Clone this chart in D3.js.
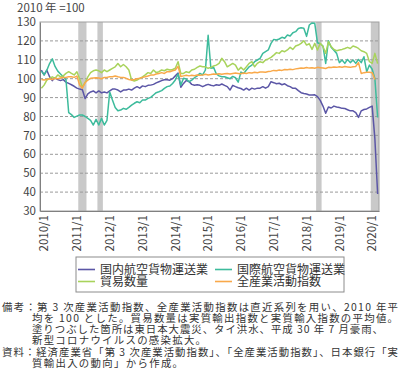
<!DOCTYPE html>
<html>
<head>
<meta charset="utf-8">
<script src="https://cdn.jsdelivr.net/npm/d3@7"></script>
<style>
body { margin: 0; background: #fff; }
text { font-family: "Noto Sans CJK JP", "Noto Sans", sans-serif; }
</style>
</head>
<body>
<div id="chart"></div>
<script>
// categories and labels
var years = [2010, 2011, 2012, 2013, 2014, 2015, 2016, 2017, 2018, 2019, 2020];
var tickLabels = ["2010/1", "2011/1", "2012/1", "2013/1", "2014/1", "2015/1",
                  "2016/1", "2017/1", "2018/1", "2019/1", "2020/1"];
var yTicks = [30, 40, 50, 60, 70, 80, 90, 100, 110, 120, 130];
var seriesNames = ["国内航空貨物運送業", "国際航空貨物運送業", "貿易数量", "全産業活動指数"];
var colors = ["#5b56a6", "#3dbb9c", "#a8d35b", "#f9a94a"];

// shaded periods (earthquake, Thai flood, 2018 heavy rain, covid)
var shadeStart = ["2011/3", "2011/10", "2018/6", "2020/2"];
var shadeEnd   = ["2011/5", "2011/11", "2018/7", "2020/4"];

// monthly values 2010/1 - 2020/4, one row per year
var domestic = [
  104.5, 102, 104.5, 101, 99, 100.5, 99.5, 99, 99.5, 98.2, 97.5, 96.8,
  96, 95, 94.5, 94.2, 89.5, 92, 93, 93.5, 92.5, 93.5, 92.5, 93,
  92.5, 93.5, 94.5, 94.5, 94, 93, 94, 94, 94.5, 94, 95, 95.8,
  95, 96.2, 95.8, 96.5, 96.6, 97, 97.8, 98.4, 99, 99.4, 99.5, 99.2,
  100, 101.5, 103, 95.5, 97.5, 99, 98.5, 97, 96.5, 96.8, 96.5, 95.8,
  96.5, 97, 96.5, 96.2, 96.8, 96.5, 97.2, 96.5, 95.8, 94, 96.5, 95.8,
  95.2, 94.8, 94, 95, 94, 95, 94.5, 95, 95, 95.8, 95, 95.8,
  98.4, 97.9, 97.3, 97.6, 96.8, 97.3, 96.3, 95.8, 94.9, 94.9, 93.7, 92.6,
  92.2, 91.9, 91.4, 91.4, 91.5, 90.5, 88.5, 85.5, 81.7, 85, 84.5, 85.5,
  85, 84.8, 84.3, 84.2, 83.6, 83, 83, 82, 79.5, 83, 83.7, 84,
  84.8, 85.5, 68, 39
];
var international = [
  104, 102, 104.5, 108, 110.5, 106.5, 104, 102.5, 101, 99.5, 82, 81,
  79.5, 80.2, 80.8, 80.8, 80, 79, 78, 75.5, 78.5, 75.5, 79, 75.5,
  78, 93, 88.7, 84.8, 83, 83.4, 84.3, 83.8, 84.8, 86, 87, 87.8,
  87.3, 88.7, 88.7, 89.6, 90.1, 91.4, 92.6, 93.1, 93.7, 94.9, 95.8, 96.1,
  97.5, 99.3, 102.5, 96.6, 100.2, 99.8, 98.4, 99.2, 100.5, 101.5, 102.8, 102,
  104.6, 123, 105.5, 106, 102.5, 101.5, 101, 101, 100.5, 100, 101.2, 100.5,
  98.2, 103.5, 102.8, 104.6, 106.3, 107.2, 109, 109.9, 110.8, 113.4, 114.3, 115.2,
  118.7, 120.8, 120.5, 121, 121.9, 121.4, 123.1, 122.6, 124.3, 124.9, 126.6, 127,
  126.7, 122.4, 128.4, 129.5, 129.3, 119, 118.5, 117.3, 108.1, 120.1, 116.6, 115,
  113.4, 108.5, 109.9, 108.1, 110.2, 108.5, 109.9, 108.1, 110.2, 108.5, 111.6, 103.7,
  107.2, 105, 100, 79.5
];
var tradeVolume = [
  94.9, 96.6, 99.3, 100.2, 101, 100.2, 102, 101, 101.5, 102.8, 103.7, 102.8,
  102, 103.7, 100, 95.5, 98, 101, 103.2, 104.2, 104.6, 104.2, 103.2, 104.6,
  103.7, 104.6, 105.5, 106.3, 108, 106.3, 107.5, 106.3, 104.6, 99.3, 98.8, 99.3,
  100.2, 101, 102, 103.2, 102.8, 104.6, 103.2, 103.7, 104.6, 104.2, 105, 104.6,
  104.9, 105.5, 109, 102.8, 102.8, 103.7, 103.2, 104.6, 105, 106, 106.7, 106.3,
  106.3, 105.5, 106, 106.7, 107.2, 108.1, 110.8, 109, 106.3, 107.2, 108.1, 107.2,
  104.5, 106, 104.6, 106.3, 108.1, 109, 106.3, 108.1, 109, 108.5, 109.9, 110.5,
  111.3, 112.5, 113.8, 113.4, 114.8, 114.3, 115.2, 116.6, 115.5, 117.3, 117.8, 118.7,
  120.1, 117.8, 118.5, 115.5, 118.7, 115.2, 118.7, 117, 113.4, 119.6, 117, 115.5,
  114.8, 115.2, 115.5, 116, 116.6, 116, 117.3, 116.8, 116, 114.8, 114.3, 113.4,
  109, 108.1, 113.4, 108
];
var allIndustry = [
  99.6, 99.3, 99.6, 100, 99.6, 100.2, 100, 100.4, 100.7, 100.7, 101, 101,
  100.7, 101.4, 96.7, 95, 97.9, 99.3, 100.2, 100.4, 100.5, 100.4, 100, 100.7,
  100.7, 101, 101, 101.4, 101, 100.7, 100.7, 100.2, 99.6, 99.3, 99.6, 100,
  100.2, 100.7, 101, 101.4, 101.9, 101.9, 102.5, 102.8, 103.2, 102.8, 103.7, 103.7,
  104.2, 104.6, 106.5, 101.2, 101.5, 101.8, 101.5, 101.8, 101.6, 102, 101.8, 102,
  102.3, 102, 102.2, 102.5, 102.3, 102.6, 102.4, 102.6, 102.8, 102.5, 102.8, 103,
  102.8, 102.6, 103, 102.8, 103.2, 103, 103.4, 103.2, 103.5, 103.6, 103.4, 103.8,
  104, 104.4, 104.2, 104.6, 104.4, 104.9, 104.7, 105, 104.8, 105.2, 105.4, 105.6,
  105.5, 105.9, 105.6, 105.8, 105.5, 106, 105.8, 105.6, 105.4, 106, 105.9, 106.2,
  106, 106.3, 106.1, 106.4, 106.2, 106, 106.3, 106.5, 108.5, 102.8, 103.2, 103.4,
  103.4, 103.2, 99.6, null
];

var months = [];
years.forEach(function (yr) {
  for (var m = 1; m <= 12; m++) months.push(yr + "/" + m);
});
months = months.slice(0, domestic.length);

var series = [domestic, international, tradeVolume, allIndustry];

var W = 400, H = 390;
var margin = {top: 22, right: 21, bottom: 179, left: 40},
    width = W - margin.left - margin.right,
    height = H - margin.top - margin.bottom;

var svg = d3.select("#chart")
  .append("svg")
    .attr("width", W)
    .attr("height", H);

var g = svg.append("g")
    .attr("transform", "translate(" + margin.left + "," + margin.top + ")");

var x = d3.scaleBand()
  .domain(months)
  .range([0, width])
  .padding(0);

var y = d3.scaleLinear()
  .domain([30, 130])
  .range([height, 0]);

var bw = x.bandwidth();

// shaded periods
g.selectAll(".shade")
  .data(shadeStart)
  .enter()
  .append("rect")
    .attr("x", function (d) { return x(d); })
    .attr("y", 0)
    .attr("width", function (d, i) { return x(shadeEnd[i]) + bw - x(d); })
    .attr("height", height)
    .attr("fill", "#c9c9c9");

// dashed grid
g.selectAll(".grid")
  .data(yTicks.filter(function (d) { return d > 30 && d < 130; }))
  .enter()
  .append("line")
    .attr("x1", 0)
    .attr("x2", width)
    .attr("y1", function (d) { return y(d); })
    .attr("y2", function (d) { return y(d); })
    .attr("stroke", "#9a9a9a")
    .attr("stroke-width", 1)
    .attr("stroke-dasharray", "3,2");

// frame
g.append("rect")
  .attr("x", 0)
  .attr("y", 0)
  .attr("width", width)
  .attr("height", height)
  .attr("fill", "none")
  .attr("stroke", "#a0a0a0")
  .attr("stroke-width", 1);

// y axis
var yAxis = g.append("g")
  .call(d3.axisLeft(y).tickValues(yTicks).tickSize(0).tickPadding(4));
yAxis.select(".domain").attr("stroke", "#808080");
yAxis.selectAll("text")
  .attr("fill", "#444")
  .style("font-size", "11.5px");

// x axis labels (rotated)
var xAxis = g.append("g")
  .attr("transform", "translate(0," + height + ")")
  .call(d3.axisBottom(x).tickValues(tickLabels).tickSize(0).tickPadding(4));
xAxis.select(".domain").attr("stroke", "#808080");
xAxis.selectAll("text")
  .attr("fill", "#444")
  .style("font-size", "11.5px")
  .style("text-anchor", "end")
  .attr("transform", "translate(3,0) rotate(-90)")
  .attr("x", -4)
  .attr("y", 0)
  .attr("dy", "0.35em");

// lines
var line = d3.line()
  .defined(function (d) { return d != null; })
  .x(function (d, i) { return x(months[i]) + bw / 2; })
  .y(function (d) { return y(d); });

g.selectAll(".series")
  .data(series)
  .enter()
  .append("path")
    .attr("fill", "none")
    .attr("stroke", function (d, i) { return colors[i]; })
    .attr("stroke-width", 1.5)
    .attr("stroke-linejoin", "round")
    .attr("d", line);

// unit label
svg.append("text")
  .attr("x", 17)
  .attr("y", 12)
  .attr("fill", "#444")
  .style("font-size", "11.5px")
  .text("2010 年 =100");

// legend
var lg = svg.append("g").attr("transform", "translate(76,257)");
lg.append("rect")
  .attr("width", 268)
  .attr("height", 35)
  .attr("fill", "#fff")
  .attr("stroke", "#8c8c8c");
var legendItems = lg.selectAll(".item")
  .data(seriesNames)
  .enter()
  .append("g")
    .attr("transform", function (d, i) {
      return "translate(" + (i % 2 ? 139 : 2) + "," + (i < 2 ? 12.5 : 24.5) + ")";
    });
legendItems.append("line")
  .attr("x1", 0).attr("x2", 17)
  .attr("stroke", function (d, i) { return colors[i]; })
  .attr("stroke-width", 1.6);
legendItems.append("text")
  .attr("x", 22)
  .attr("dy", "0.35em")
  .attr("fill", "#333")
  .style("font-size", "12px")
  .text(function (d) { return d; });

// notes, stretched to the widths seen in the reference
var notes = [
  {x: 2, y: 311, t: "備考：第 3 次産業活動指数、全産業活動指数は直近系列を用い、2010 年平", len: 396},
  {x: 32, y: 322, t: "均を 100 とした。貿易数量は実質輸出指数と実質輸入指数の平均値。", len: 366},
  {x: 32, y: 333, t: "塗りつぶした箇所は東日本大震災、タイ洪水、平成 30 年 7 月豪雨、", len: 351},
  {x: 32, y: 344, t: "新型コロナウイルスの感染拡大。", len: 174},
  {x: 2, y: 355.5, t: "資料：経済産業省「第 3 次産業活動指数」、「全産業活動指数」、日本銀行「実", len: 396},
  {x: 32, y: 366.5, t: "質輸出入の動向」から作成。", len: 151}
];
notes.forEach(function (n) {
  svg.append("text")
    .attr("x", n.x)
    .attr("y", n.y)
    .attr("fill", "#333")
    .attr("textLength", n.len)
    .attr("lengthAdjust", "spacing")
    .style("font-size", "10.4px")
    .text(n.t);
});
</script>
</body>
</html>
